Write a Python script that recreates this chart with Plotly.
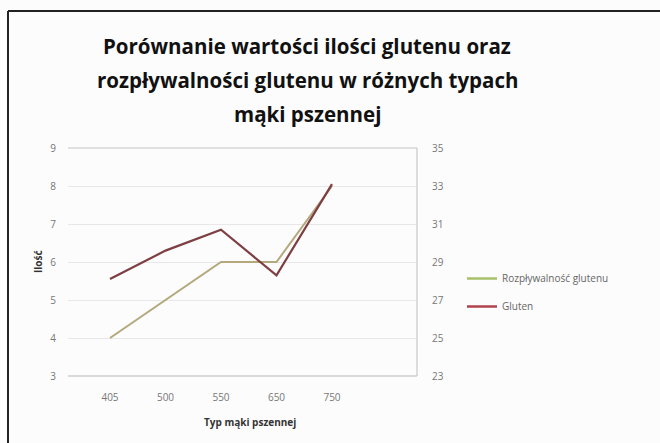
import plotly.graph_objects as go

# Flour types (category axis)
flour_types = ["405", "500", "550", "650", "750"]
# Gluten spreadability (left axis)
rozplywalnosc = [4.0, 5.0, 6.0, 6.0, 8.0]
# Gluten amount (right axis)
gluten = [28.1, 29.6, 30.7, 28.3, 33.1]

left_ticks = [3, 4, 5, 6, 7, 8, 9]
right_ticks = [23, 25, 27, 29, 31, 33, 35]

title_lines = [
    "Porównanie wartości ilości glutenu oraz",
    "rozpływalności glutenu w różnych typach",
    "mąki pszennej",
]

W, H = 660, 443
px = lambda x: x / W
py = lambda y: 1 - y / H

x_idx = list(range(len(flour_types)))
font_family = "Open Sans, Liberation Sans, sans-serif"

fig = go.Figure()

fig.add_trace(go.Scatter(
    x=x_idx, y=rozplywalnosc, mode="lines", name="Rozpływalność glutenu",
    line=dict(color="#b3a97c", width=2), yaxis="y", showlegend=False,
))
fig.add_trace(go.Scatter(
    x=x_idx, y=gluten, mode="lines", name="Gluten",
    line=dict(color="#7e3f42", width=2.2), yaxis="y2", showlegend=False,
))
# legend keys
fig.add_trace(go.Scatter(
    x=[None], y=[None], mode="lines", name="Rozpływalność glutenu",
    line=dict(color="#a9c06a", width=2.5), yaxis="y", legendgroup="a",
))
fig.add_trace(go.Scatter(
    x=[None], y=[None], mode="lines", name="Gluten",
    line=dict(color="#b0434b", width=2.5), yaxis="y", legendgroup="b",
))

x0, x1 = 68, 417
y_top, y_bot = 148, 376
spacing = (332 - 110) / 4
xr = [(x0 - 110) / spacing, (x1 - 110) / spacing]

shapes = [
    # outer frame
    dict(type="line", xref="paper", yref="paper", x0=px(8), x1=px(660),
         y0=py(11), y1=py(11), line=dict(color="#222", width=2)),
    dict(type="line", xref="paper", yref="paper", x0=px(8), x1=px(8),
         y0=py(11), y1=py(443), line=dict(color="#222", width=2)),
    # plot frame
    dict(type="line", xref="paper", yref="paper", x0=px(x0), x1=px(x1),
         y0=py(y_top), y1=py(y_top), line=dict(color="#c4c4c4", width=1.2)),
    dict(type="line", xref="paper", yref="paper", x0=px(x0), x1=px(x1),
         y0=py(y_bot), y1=py(y_bot), line=dict(color="#b8b8b8", width=1.2)),
    dict(type="line", xref="paper", yref="paper", x0=px(x1), x1=px(x1),
         y0=py(y_top), y1=py(y_bot), line=dict(color="#c8c8c8", width=1.2)),
]

annotations = []
for i, line in enumerate(title_lines):
    annotations.append(dict(
        text="<b>" + line + "</b>", xref="paper", yref="paper",
        x=px(307), y=py(46 + 34 * i), showarrow=False,
        xanchor="center", yanchor="middle",
        font=dict(family=font_family, size=20.5, color="#111"),
    ))
annotations += [
    dict(text="<b>Ilość</b>", xref="paper", yref="paper", x=px(38), y=py(262),
         showarrow=False, textangle=-90, xanchor="center", yanchor="middle",
         font=dict(family=font_family, size=10, color="#333")),
    dict(text="<b>Typ mąki pszennej</b>", xref="paper", yref="paper", x=px(250), y=py(422),
         showarrow=False, xanchor="center", yanchor="middle",
         font=dict(family=font_family, size=10, color="#333")),
]

fig.update_layout(
    width=W, height=H,
    margin=dict(l=0, r=0, t=0, b=0),
    paper_bgcolor="#fcfcfc", plot_bgcolor="#fcfcfc",
    font=dict(family=font_family, size=10, color="#666"),
    xaxis=dict(domain=[px(x0), px(x1)], range=xr, tickmode="array",
               tickvals=x_idx, ticktext=flour_types, showgrid=False,
               zeroline=False, showline=False, ticks="", automargin=False,
               ticklabelstandoff=14, tickfont=dict(size=10, color="#777")),
    yaxis=dict(domain=[py(y_bot), py(y_top)], range=[3, 9], tickvals=left_ticks,
               showgrid=True, gridcolor="#e8e8e8", gridwidth=1, zeroline=False,
               showline=False, ticks="", automargin=False, ticklabelstandoff=11,
               tickfont=dict(size=10, color="#777")),
    yaxis2=dict(overlaying="y", side="right", anchor="x", range=[23, 35],
                tickvals=right_ticks, showgrid=False, zeroline=False,
                showline=False, ticks="", automargin=False, ticklabelstandoff=14,
                tickfont=dict(size=10, color="#777")),
    legend=dict(x=px(462), y=py(264), xanchor="left", yanchor="top",
                bgcolor="rgba(0,0,0,0)", font=dict(size=10, color="#666"),
                traceorder="grouped", tracegroupgap=9, itemwidth=30),
    shapes=shapes,
    annotations=annotations,
)

fig.write_html("out.html")
